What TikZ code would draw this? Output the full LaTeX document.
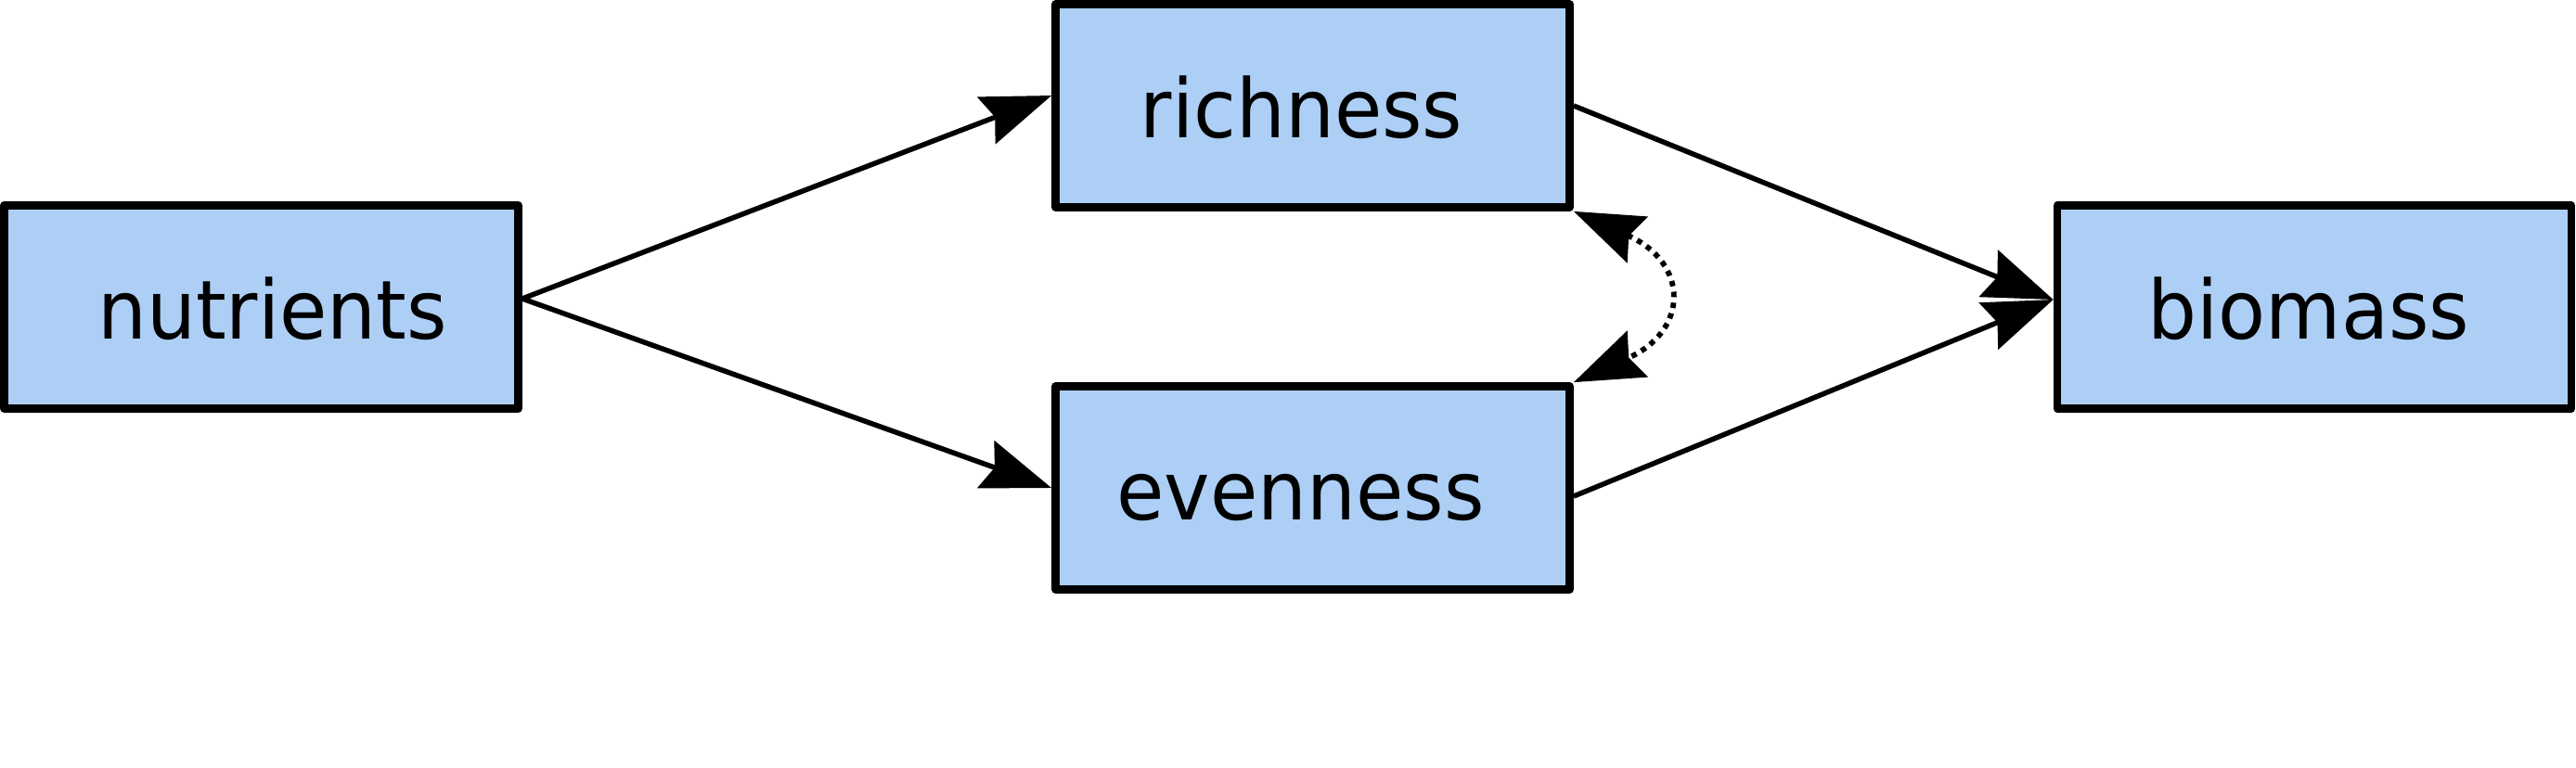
\documentclass[tikz,border=0pt]{standalone}
\usepackage{fontspec}
\setmainfont{DejaVu Sans}[FakeStretch=0.95]
\usetikzlibrary{shapes,arrows.meta}
\definecolor{boxblue}{HTML}{ADCFF5}
\tikzstyle{block} = [rectangle, draw, fill=boxblue, line width=0.087cm, line join=round,
	minimum width=5.54cm, minimum height=2.19cm, inner sep=0pt, text height=0.68cm, text depth=0pt,
	font=\fontsize{25}{30}\selectfont]
\tikzstyle{line} = [draw, line width=0.055cm, -{Stealth[length=0.75cm, width=0.54cm, inset=0.1cm]}]
\tikzstyle{link} = [draw, line width=0.058cm, dash pattern=on 0.058cm off 0.06cm,
	{Stealth[length=0.75cm, width=0.54cm, inset=0.1cm]}-{Stealth[length=0.75cm, width=0.54cm, inset=0.1cm]}]

\begin{document}
\begin{tikzpicture}[node distance = 11.33cm, auto]
	\useasboundingbox (0,0) rectangle (27.76,8.27);
	% Place nodes
	\node [block] (nutrients) at (2.815,4.96) {\hspace{0.24cm}nutrients};
	\node [block, right of=nutrients, yshift=2.17cm] (richness) {\hspace{-0.24cm}richness};
	\node [block, right of=nutrients, yshift=-1.95cm] (evenness) {\hspace{-0.26cm}evenness};
	\node [block, right of=nutrients, node distance=22.125cm] (biomass) {\hspace{-0.12cm}biomass};
	% Draw edges
	\path [line] ([yshift=0.09cm]nutrients.east) -- ([yshift=0.11cm]richness.west);
	\path [line] ([yshift=0.09cm]nutrients.east) -- (evenness.west);
	\path [line] (richness.east) -- ([yshift=0.08cm]biomass.west);
	\path [line] ([yshift=-0.09cm]evenness.east) -- ([yshift=0.08cm]biomass.west);
	\path [link] (richness.south east) to [out=-24, in=24, looseness=1.9] (evenness.north east);
\end{tikzpicture}
\end{document}
